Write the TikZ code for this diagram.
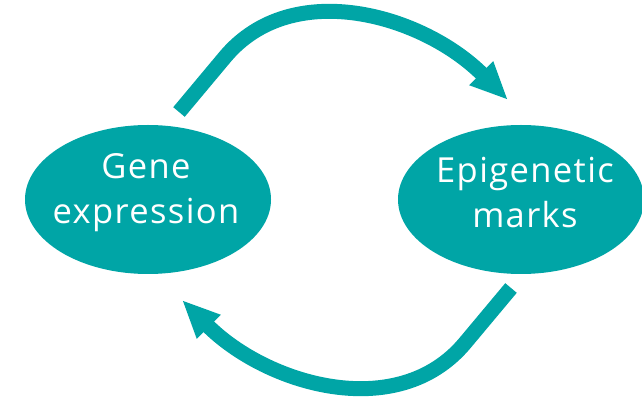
\documentclass[tikz,border=0pt]{standalone}
\usepackage{fontspec}
\setmainfont{Open Sans}[LetterSpace=4]
\usetikzlibrary{shapes.geometric,arrows.meta}
\definecolor{teal1}{RGB}{0,165,166}
\tikzset{
  blob/.style={ellipse, fill=teal1, draw=none, minimum width=246pt, minimum height=149pt, inner sep=0pt},
  lbl/.style={text=white, align=center, font=\fontsize{34.5}{45}\selectfont, inner sep=0pt},
  cyc/.style={draw=teal1, line width=15pt, line cap=butt, -{Triangle[length=38pt,width=31pt]}}
}
\begin{document}
\begin{tikzpicture}[x=1pt,y=1pt]
\useasboundingbox (0,0) rectangle (642,396);
\node[blob] (ge) at (148,196.5) {};
\node[blob] (em) at (521,196.5) {};
\node[lbl] (get) at (146,203) {Gene\\expression};
\node[lbl] (emt) at (525,203) {Epigenetic\\marks};
\coordinate (t1) at (179,284);
\coordinate (b1) at (225,339);
\coordinate (e1) at (508,296);
\coordinate (t2) at (511,108);
\coordinate (b2) at (465,53);
\coordinate (e2) at (182,96);
\draw[cyc] (t1) -- (b1) .. controls (292.4,419.5) and (423.2,380.8) .. (e1);
\draw[cyc] (t2) -- (b2) .. controls (397.6,-27.5) and (266.8,11.2) .. (e2);
\end{tikzpicture}
\end{document}
